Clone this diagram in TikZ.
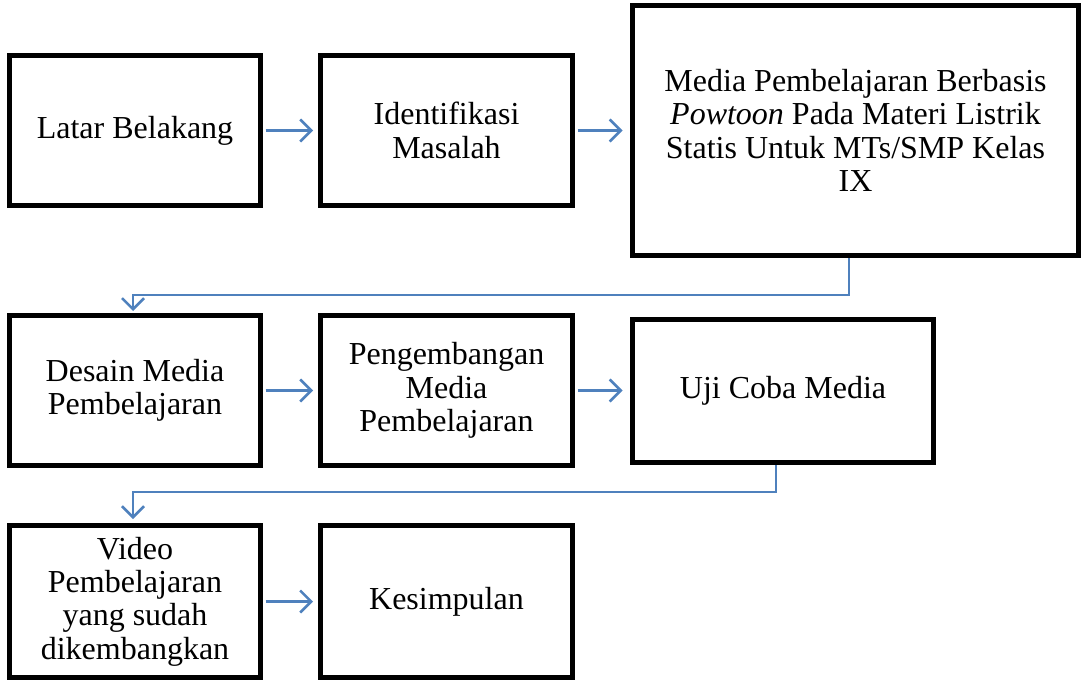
\documentclass[tikz,border=0pt]{standalone}
\usepackage{fontspec}
\setmainfont{Liberation Serif}
\usetikzlibrary{arrows.meta}
\definecolor{linkblue}{HTML}{4F81BD}
\tikzset{
  stage/.style={draw=black, line width=5pt, fill=white, align=center,
    inner sep=0pt, font=\fontsize{32}{33.3}\selectfont},
  flow/.style={draw=linkblue, line width=2.5pt,
    -{Straight Barb[length=11pt,width=22pt,line width=2.5pt]}},
}
\begin{document}
\begin{tikzpicture}[x=1pt,y=-1pt]
\useasboundingbox (0,0) rectangle (1085,682);
% first row
\node[stage, minimum width=251pt, minimum height=150pt] (b1) at (135,130.5) {\raisebox{-3pt}{Latar Belakang}};
\node[stage, minimum width=252pt, minimum height=150pt] (b2) at (446.5,130.5) {Identifikasi\\Masalah};
\node[stage, minimum width=446pt, minimum height=250pt] (b3) at (855.5,130.5)
  {Media Pembelajaran Berbasis\\\textit{Powtoon} Pada Materi Listrik\\Statis Untuk MTs/SMP Kelas\\IX};
% second row
\node[stage, minimum width=251pt, minimum height=150pt] (b4) at (135,390.5) {Desain Media\\Pembelajaran};
\node[stage, minimum width=252pt, minimum height=150pt] (b5) at (446.5,390.5) {Pengembangan\\Media\\Pembelajaran};
\node[stage, minimum width=301pt, minimum height=143pt] (b6) at (783,391) {\raisebox{-2pt}{Uji Coba Media}};
% third row
\node[stage, minimum width=251pt, minimum height=152pt] (b7) at (135,601.5) {Video\\Pembelajaran\\yang sudah\\dikembangkan};
\node[stage, minimum width=252pt, minimum height=152pt] (b8) at (446.5,601.5) {\raisebox{-3pt}{Kesimpulan}};
% horizontal links
\draw[flow, shorten <=2.5pt, shorten >=5pt] (b1.east) -- (b2.west);
\draw[flow, shorten <=2.5pt, shorten >=7.5pt] (b2.east) -- (b3.west |- b2.east);
\draw[flow, shorten <=2.5pt, shorten >=5pt] (b4.east) -- (b5.west);
\draw[flow, shorten <=2.5pt, shorten >=7.5pt] (b5.east) -- (b6.west |- b5.east);
\draw[flow, shorten <=2.5pt, shorten >=5pt] (b7.east) -- (b8.west);
% elbow links between rows
\coordinate (r1) at (849,295);
\coordinate (l1) at (133,295);
\draw[flow, shorten >=2pt] (b3.south -| r1) -- (r1) -- (l1) -- (l1 |- b4.north);
\coordinate (r2) at (776,492);
\coordinate (l2) at (133,492);
\draw[flow, shorten >=4pt] (b6.south -| r2) -- (r2) -- (l2) -- (l2 |- b7.north);
\end{tikzpicture}
\end{document}
